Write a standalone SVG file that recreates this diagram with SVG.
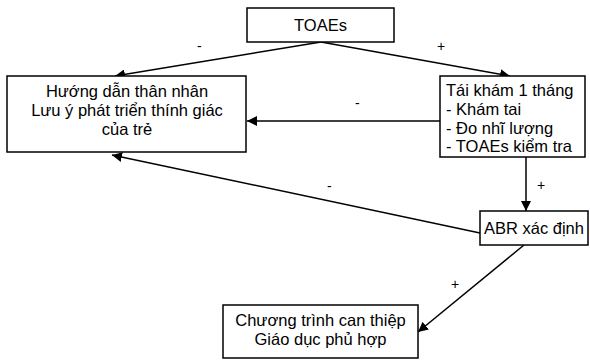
<svg xmlns="http://www.w3.org/2000/svg" width="590" height="360" viewBox="0 0 590 360">
<defs>
<marker id="ah" viewBox="0 0 10 10" refX="10" refY="5" markerWidth="10" markerHeight="10" markerUnits="userSpaceOnUse" orient="auto">
<path d="M0,0 L10,5 L0,10 z" fill="#000"/>
</marker>
<style>
rect{fill:#fff;stroke:#000;stroke-width:1.5}
text{font-family:"Liberation Sans",Arial,sans-serif;font-size:16.5px;fill:#000}
.c{text-anchor:middle}
.l{font-size:14px}
.e{fill:none;stroke:#000;stroke-width:1.5;marker-end:url(#ah)}
.n{fill:none;stroke:#000;stroke-width:1.5}
</style>
</defs>
<rect x="0" y="0" width="590" height="360" style="fill:#fff;stroke:none"/>
<g id="connectors">
<path class="e" d="M321,42 L115,76"/>
<path class="e" d="M321,42 L510,76"/>
<path class="e" d="M440,121 L247,121"/>
<path class="e" d="M480,233 L112,155"/>
<path class="e" d="M526,157 L526,211"/>
<path class="e" d="M524,245 L418,332"/>
<text class="l" x="197" y="51">-</text>
<text class="l" x="437" y="51">+</text>
<text class="l" x="355" y="108">-</text>
<text class="l" x="327" y="191">-</text>
<text class="l" x="537" y="190">+</text>
<text class="l" x="451" y="289">+</text>
</g>
<g id="n-toaes">
<rect x="247" y="8" width="147" height="34"/>
<text class="c" x="320.5" y="31">TOAEs</text>
</g>
<g id="n-huongdan">
<rect x="7" y="76" width="239" height="76"/>
<text class="c" x="127" y="97">Hướng dẫn thân nhân</text>
<text class="c" x="127" y="116">Lưu ý phát triển thính giác</text>
<text class="c" x="127" y="135">của trẻ</text>
</g>
<g id="n-taikham">
<rect x="440" y="76" width="145" height="81"/>
<text x="446" y="96">Tái khám 1 tháng</text>
<text x="446" y="115">- Khám tai</text>
<text x="446" y="133.5">- Đo nhĩ lượng</text>
<text x="446" y="152">- TOAEs kiểm tra</text>
</g>
<g id="n-abr">
<rect x="480" y="211" width="108" height="34"/>
<text x="484" y="234">ABR xác định</text>
</g>
<g id="n-chuongtrinh">
<rect x="223" y="305" width="195" height="53"/>
<text class="c" x="320.5" y="326">Chương trình can thiệp</text>
<text class="c" x="320.5" y="345">Giáo dục phủ hợp</text>
</g>
</svg>
